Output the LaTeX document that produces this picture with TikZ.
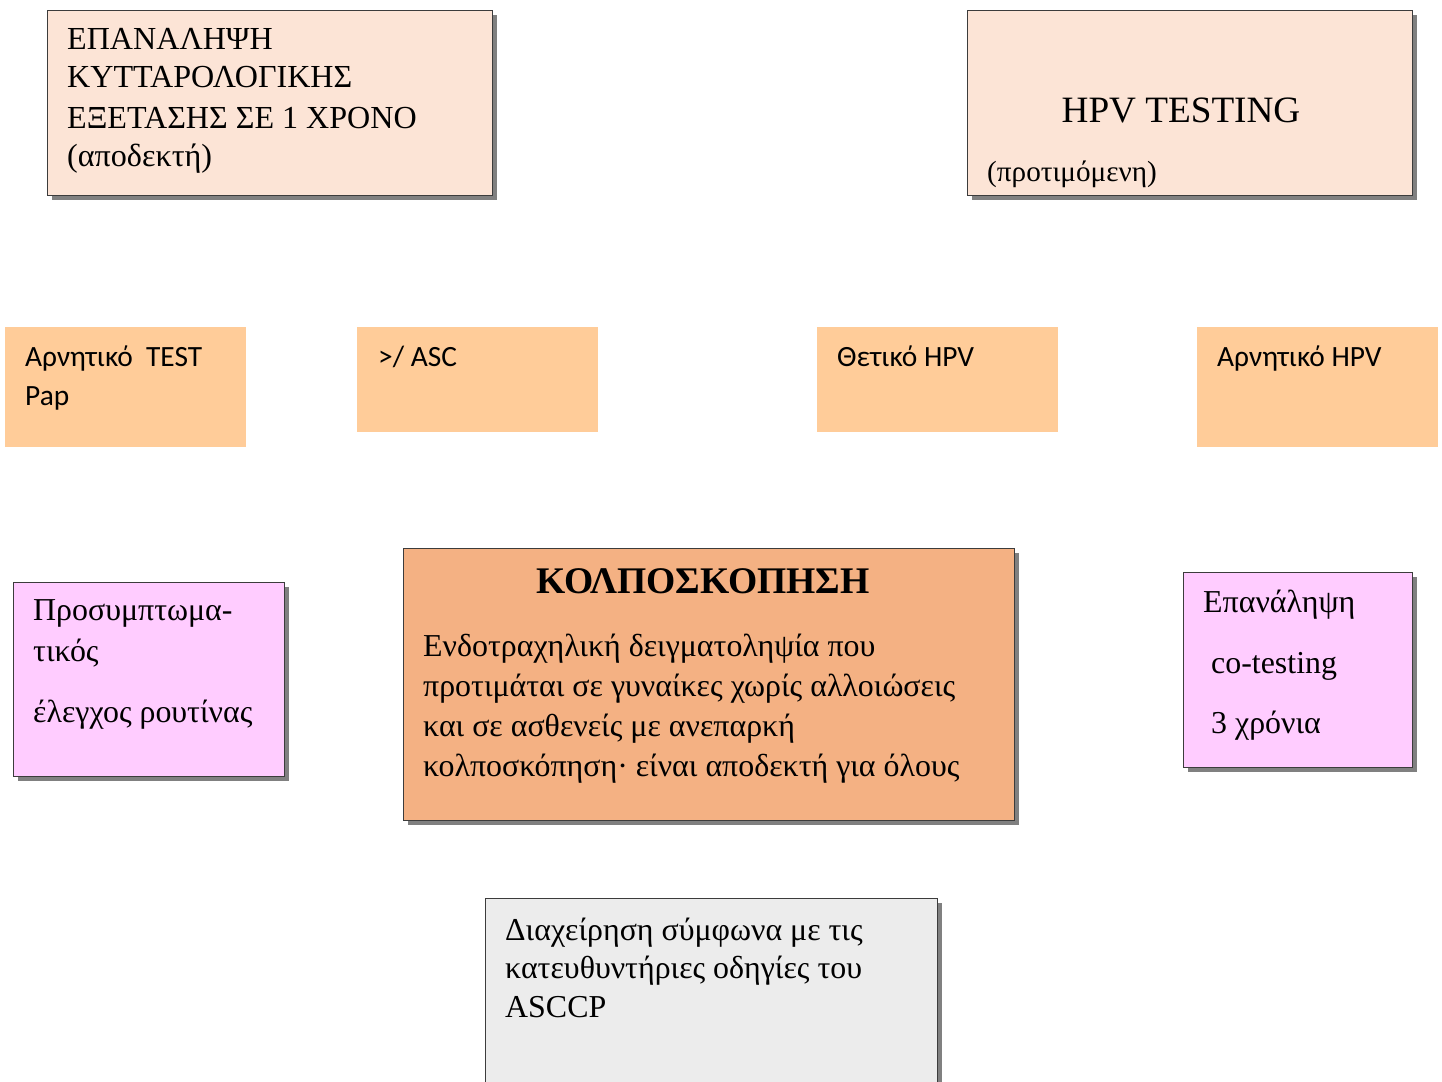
\documentclass[tikz,border=0pt]{standalone}
\usepackage{fontspec}
\setmainfont{Liberation Serif}
\newfontfamily\tagfont{Carlito}
\usetikzlibrary{shadows}

\definecolor{peach}{RGB}{252,228,214}
\definecolor{tagorange}{RGB}{255,204,153}
\definecolor{lilac}{RGB}{255,204,255}
\definecolor{salmon}{RGB}{244,177,131}
\definecolor{paleGray}{RGB}{236,236,236}
\definecolor{edge}{RGB}{60,60,60}
\definecolor{shade}{RGB}{128,128,128}

\begin{document}
\begin{tikzpicture}[x=1pt,y=-1pt,
  card/.style={draw=edge, line width=1.3pt, inner sep=0pt, anchor=north west,
    general shadow={fill=shade, shadow xshift=4.5pt, shadow yshift=-4.5pt}},
  tagbox/.style={fill=tagorange, inner sep=0pt, anchor=north west},
  line/.style={anchor=base west, inner sep=0pt, font=\fontsize{31.9}{38}\selectfont},
  bigline/.style={anchor=base west, inner sep=0pt, font=\fontsize{32.1}{39}\selectfont},
  tagline/.style={anchor=base west, inner sep=0pt, font=\tagfont\fontsize{29.4}{35}\selectfont}]

\useasboundingbox (0,0) rectangle (1442,1081);

% upper cards
\node[card, fill=peach, minimum width=445pt, minimum height=185pt] (repeat) at (47,10) {};
\node[bigline] (repeat1) at (67,50) {ΕΠΑΝΑΛΗΨΗ};
\node[bigline] (repeat2) at (67,88) {ΚΥΤΤΑΡΟΛΟΓΙΚΗΣ};
\node[bigline] (repeat3) at (67,128) {ΕΞΕΤΑΣΗΣ ΣΕ 1 ΧΡΟΝΟ};
\node[bigline] (repeat4) at (67,166) {(αποδεκτή)};

\node[card, fill=peach, minimum width=445pt, minimum height=185pt] (hpv) at (967,10) {};
\node[anchor=base, inner sep=0pt, font=\fontsize{37.2}{44}\selectfont] (hpv1) at (1181,122) {HPV TESTING};
\node[anchor=base west, inner sep=0pt, font=\fontsize{29.2}{35}\selectfont] (hpv2) at (987,181) {(προτιμόμενη)};

% result tags
\node[tagbox, minimum width=241pt, minimum height=120pt] (negpap) at (5,327) {};
\node[tagline] (negpap1) at (25,366) {Αρνητικό\ \ TEST};
\node[tagline] (negpap2) at (25,405) {Pap};

\node[tagbox, minimum width=241pt, minimum height=105pt] (asc) at (357,327) {};
\node[tagline] (asc1) at (378,366) {>/ ASC};

\node[tagbox, minimum width=241pt, minimum height=105pt] (poshpv) at (817,327) {};
\node[tagline] (poshpv1) at (837,366) {Θετικό HPV};

\node[tagbox, minimum width=241pt, minimum height=120pt] (neghpv) at (1197,327) {};
\node[tagline] (neghpv1) at (1217,366) {Αρνητικό HPV};

% follow-up cards
\node[card, fill=lilac, minimum width=271pt, minimum height=194pt] (routine) at (13,582) {};
\node[line] (routine1) at (33,620) {Προσυμπτωμα-};
\node[line] (routine2) at (33,661) {τικός};
\node[line] (routine3) at (33,722) {έλεγχος ρουτίνας};

\node[card, fill=salmon, minimum width=611pt, minimum height=272pt] (colpo) at (403,548) {};
\node[anchor=base, inner sep=0pt, font=\bfseries\fontsize{37.6}{44}\selectfont] (colpo0) at (703,593) {ΚΟΛΠΟΣΚΟΠΗΣΗ};
\node[line] (colpo1) at (423,656) {Ενδοτραχηλική δειγματοληψία που};
\node[line] (colpo2) at (423,696) {προτιμάται σε γυναίκες χωρίς αλλοιώσεις};
\node[line] (colpo3) at (423,736) {και σε ασθενείς με ανεπαρκή};
\node[line] (colpo4) at (423,776) {κολποσκόπηση· είναι αποδεκτή για όλους};

\node[card, fill=lilac, minimum width=229pt, minimum height=195pt] (cotest) at (1183,572) {};
\node[line] (cotest1) at (1203,612) {Επανάληψη};
\node[line] (cotest2) at (1211,673) {co-testing};
\node[line] (cotest3) at (1211,733) {3 χρόνια};

% guideline card running off the lower edge
\node[card, fill=paleGray, minimum width=452pt, minimum height=200pt] (asccp) at (485,898) {};
\node[line] (asccp1) at (505,940) {Διαχείρηση σύμφωνα με τις};
\node[line] (asccp2) at (505,978) {κατευθυντήριες οδηγίες του};
\node[line] (asccp3) at (505,1017) {ASCCP};

\end{tikzpicture}
\end{document}
